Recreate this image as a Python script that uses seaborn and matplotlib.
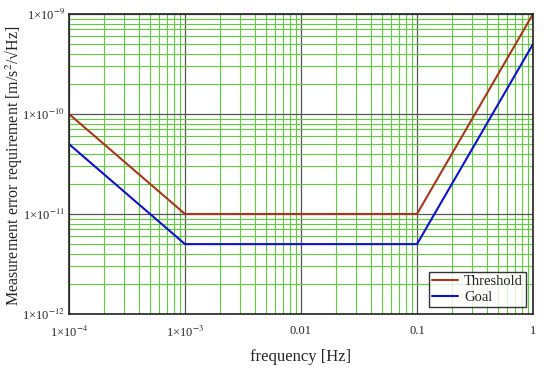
import numpy as np
import pandas as pd
import matplotlib
matplotlib.use("Agg")
import matplotlib.pyplot as plt
import matplotlib.ticker as mticker
import seaborn as sns

freq = [1e-4, 1e-3, 0.1, 1.0]
threshold = [1e-10, 1e-11, 1e-11, 1e-9]
goal = [5e-11, 5e-12, 5e-12, 5e-10]
xticks = [1e-4, 1e-3, 0.01, 0.1, 1]
xticklabels = [r"1×10$^{-4}$", r"1×10$^{-3}$", "0.01", "0.1", "1"]
yticks = [1e-12, 1e-11, 1e-10, 1e-9]
yticklabels = [r"1×10$^{-12}$", r"1×10$^{-11}$", r"1×10$^{-10}$", r"1×10$^{-9}$"]

df = pd.concat([
    pd.DataFrame({"f": freq, "v": threshold, "s": "Threshold"}),
    pd.DataFrame({"f": freq, "v": goal, "s": "Goal"}),
])

sns.set_style("white")
plt.rcParams['font.family'] = ['Liberation Serif', 'DejaVu Serif']
plt.rcParams['mathtext.fontset'] = 'stix'

fig = plt.figure(figsize=(5.5, 3.76), dpi=100)
ax = fig.add_axes([69/550, 1 - 314/376, (533-69)/550, (314-14)/376])

sns.lineplot(data=df, x="f", y="v", hue="s", palette={"Threshold": "#a8361c", "Goal": "#1010d0"},
             ax=ax, linewidth=1.5, legend=True)
ax.set_xscale("log")
ax.set_yscale("log")
ax.set_xlim(1e-4, 1)
ax.set_ylim(1e-12, 1e-9)

ax.xaxis.set_minor_locator(mticker.LogLocator(base=10, subs=np.arange(2, 10)))
ax.yaxis.set_minor_locator(mticker.LogLocator(base=10, subs=np.arange(2, 10)))
ax.grid(True, which="minor", color="#5fcc3c", linewidth=0.8)
ax.grid(True, which="major", color="#555555", linewidth=0.9)
ax.set_axisbelow(True)
ax.set_xticks(xticks)
ax.set_xticklabels(xticklabels)
ax.set_yticks(yticks)
ax.set_yticklabels(yticklabels)
ax.tick_params(which="both", length=0, labelsize=9)
ax.tick_params(axis="x", pad=8)
ax.tick_params(axis="y", pad=3)
ax.xaxis.set_minor_formatter(mticker.NullFormatter())
ax.yaxis.set_minor_formatter(mticker.NullFormatter())
for sp in ax.spines.values():
    sp.set_color("#222222")
    sp.set_linewidth(1.2)

ax.set_xlabel("frequency [Hz]", fontsize=12, labelpad=6)
ax.set_ylabel("")
fig.text(14/550, 1 - 166/376, r"Measurement error requirement [m/s$^2$/√Hz]",
         rotation=90, ha="center", va="center", fontsize=11.5)

leg = ax.legend(loc="lower right", fontsize=10.5, frameon=True, fancybox=False,
                edgecolor="black", borderpad=0.2, handlelength=1.8, handletextpad=0.4,
                labelspacing=0.2, borderaxespad=0.5)
leg.get_frame().set_linewidth(1.0)
leg.set_title(None)

fig.savefig("out.png", dpi=100)
